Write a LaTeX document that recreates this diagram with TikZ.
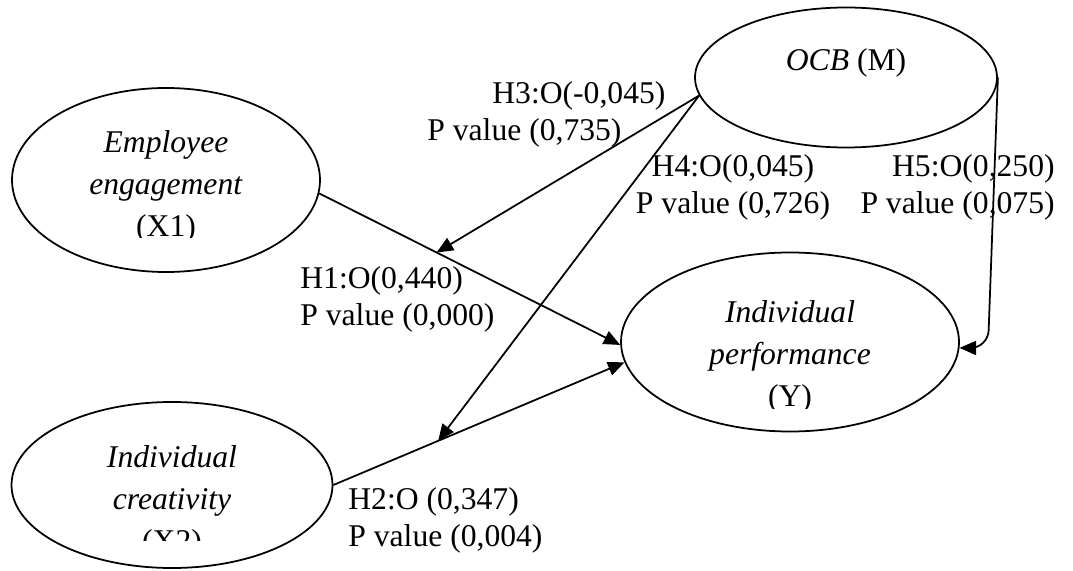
\documentclass[tikz,border=0pt]{standalone}
\usepackage{fontspec}
\setmainfont{Liberation Serif}
\usetikzlibrary{arrows.meta,shapes.geometric}

\begin{document}
\begin{tikzpicture}[
  font=\fontsize{18}{21}\selectfont,
  construct/.style={draw=black, line width=1pt, ellipse, inner sep=0pt},
  caption/.style={align=center, inner sep=0pt, font=\fontsize{18}{24}\selectfont},
  effect/.style={draw=black, line width=1pt, -{Triangle[length=3.3mm,width=2.8mm]}},
  estim/.style={align=left, inner sep=0pt}
]
\useasboundingbox (0,0) rectangle (21.46,11.4);

\node[construct, minimum width=6.16cm, minimum height=3.68cm] (engage) at (3.32,7.80) {};
\node[construct, minimum width=6.42cm, minimum height=3.32cm] (creative) at (3.44,1.70) {};
\node[construct, minimum width=6.04cm, minimum height=2.80cm] (ocb) at (16.92,9.85) {};
\node[construct, minimum width=6.76cm, minimum height=3.58cm] (perform) at (15.80,4.56) {};

% text boxes cut off at the bottom
\begin{scope}
  \clip (0,6.64) rectangle (7,11.4);
  \node[caption] (engagetext) at (3.32,7.66) {\textit{Employee}\\\textit{engagement}\\(X1)};
\end{scope}
\begin{scope}
  \clip (0,0.60) rectangle (7,4);
  \node[caption] (creativetext) at (3.44,1.36) {\textit{Individual}\\\textit{creativity}\\(X2)};
\end{scope}
\begin{scope}
  \clip (12,3.23) rectangle (20,7);
  \node[caption] (performtext) at (15.80,4.26) {\textit{Individual}\\\textit{performance}\\(Y)};
\end{scope}
\node[caption] (ocbtext) at (16.92,10.15) {\textit{OCB} (M)};

% direct effects
\draw[effect] (engage.-5) -- coordinate[pos=0.39] (h1mid) (perform.181);
\draw[effect] (creative.east) -- coordinate[pos=0.36] (h2mid) (perform.187);

% effects through OCB
\draw[effect] (ocb.187) -- (h1mid);
\draw[effect] (ocb.187) -- (h2mid);
\coordinate (h5bend) at (19.76,4.44);
\draw[effect, rounded corners=10pt] (ocb.east) -- (h5bend) -- (perform.-2);

\node[estim, anchor=west] (h1lbl) at (6.00,5.41) {H1:O(0,440)\\P value (0,000)};
\node[estim, anchor=west] (h2lbl) at (6.96,0.99) {H2:O (0,347)\\P value (0,004)};
\node[estim, anchor=west] (h3lbl) at (8.54,9.12) {\hspace*{1.3cm}H3:O(-0,045)\\P value (0,735)};
\node[estim, align=center] (h4lbl) at (14.66,7.66) {H4:O(0,045)\\P value (0,726)};
\node[estim, align=right, anchor=east] (h5lbl) at (21.10,7.66) {H5:O(0,250)\\P value (0,075)};
\end{tikzpicture}
\end{document}
